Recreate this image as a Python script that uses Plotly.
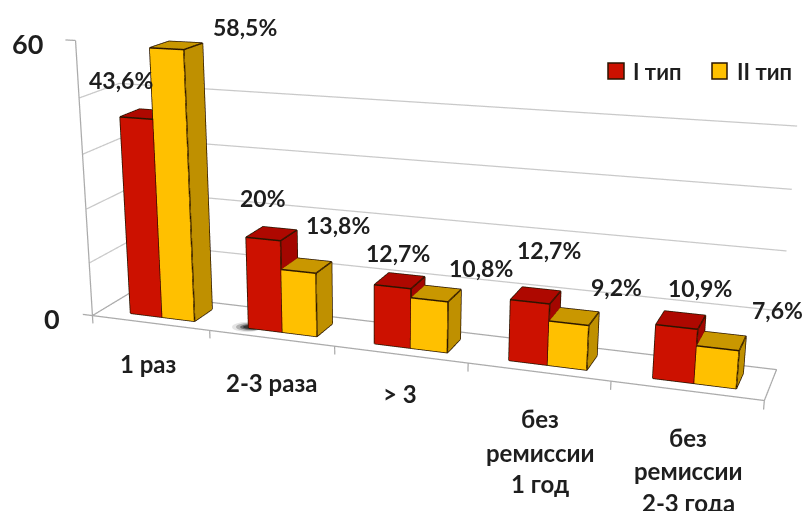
import plotly.graph_objects as go

W, H = 803, 511

categories = ["1 раз", "2-3 раза", "> 3", "без ремиссии 1 год", "без ремиссии 2-3 года"]
type_1 = [43.6, 20, 12.7, 12.7, 10.9]
type_2 = [58.5, 13.8, 10.8, 9.2, 7.6]
series_names = ["I тип", "II тип"]
grid_values = [12, 24, 36, 48]
axis_min, axis_max = 0, 60

RED = dict(front="#CC1100", side="#A30600", top="#AE0800")
YELLOW = dict(front="#FFC000", side="#BF9000", top="#C99700")
EDGE = "#2A1500"
GRID = "#C9C9C9"
AXIS = "#ABABAB"
INK = "#1E1E1E"
FONT = "Lato, 'Open Sans', sans-serif"

# bar footprint inside a category slot (x) and across the floor (y)
SLOT_STARTS = (0.25, 0.525)
BAR_W = 0.275
DEPTH = (0.25, 0.75)

# skew of the oblique box: how far depth and height lean in the plotted space
DEPTH_ASPECT = 0.06067
HEIGHT_ASPECT = 0.36345
LEAN_X_BY_DEPTH = 0.03145
LEAN_X_BY_HEIGHT = -0.0322
LEAN_Y_BY_HEIGHT = 0.21565
LEAN_Y_BY_X = 0.00083


def place(x, y, z):
    """Category slot, floor depth and value -> scene coordinates (value stays on z)."""
    xn, yn, zn = x / 5 - 0.5, y - 0.5, z / 60 - 0.5
    return (x + 5 * (LEAN_X_BY_DEPTH * yn + LEAN_X_BY_HEIGHT * zn),
            y + (LEAN_Y_BY_HEIGHT * zn + LEAN_Y_BY_X * xn) / DEPTH_ASPECT,
            z)


def polyline(segs, color, width):
    xs, ys, zs = [], [], []
    for s in segs:
        for p in s:
            px, py, pz = place(*p)
            xs.append(px); ys.append(py); zs.append(pz)
        xs.append(None); ys.append(None); zs.append(None)
    return go.Scatter3d(x=xs, y=ys, z=zs, mode="lines",
                        line=dict(color=color, width=width),
                        hoverinfo="skip", showlegend=False)


def box(x0, x1, y0, y1, value, colors, name):
    corners = [(x0, y0, 0), (x1, y0, 0), (x1, y1, 0), (x0, y1, 0),
               (x0, y0, value), (x1, y0, value), (x1, y1, value), (x0, y1, value)]
    xs, ys, zs = zip(*[place(*c) for c in corners])
    faces = [((0, 1, 5), "front"), ((0, 5, 4), "front"),
             ((1, 2, 6), "side"), ((1, 6, 5), "side"),
             ((4, 5, 6), "top"), ((4, 6, 7), "top"),
             ((0, 4, 7), "side"), ((0, 7, 3), "side"),
             ((3, 2, 6), "side"), ((3, 6, 7), "side"),
             ((0, 1, 2), "side"), ((0, 2, 3), "side")]
    return go.Mesh3d(
        x=xs, y=ys, z=zs, name=name,
        i=[f[0][0] for f in faces], j=[f[0][1] for f in faces], k=[f[0][2] for f in faces],
        facecolor=[colors[f[1]] for f in faces], flatshading=True, opacity=1,
        lighting=dict(ambient=1, diffuse=0, specular=0, fresnel=0, roughness=1),
        hoverinfo="skip", showscale=False,
    )


def box_edges(x0, x1, y0, y1, v):
    segs = [
        [(x0, y0, 0), (x1, y0, 0), (x1, y1, 0)],
        [(x0, y0, 0), (x0, y0, v), (x1, y0, v), (x1, y0, 0)],
        [(x0, y0, v), (x0, y1, v), (x1, y1, v), (x1, y0, v)],
        [(x1, y1, v), (x1, y1, 0)],
    ]
    return polyline(segs, EDGE, 3)


n = len(categories)
fig = go.Figure()

# gridlines on the side and back walls
fig.add_trace(polyline([[(n, 1, v), (0, 1, v), (0, 0, v)] for v in grid_values], GRID, 2.5))

# value axis, floor outline and tick marks
frame = [[(0, 0, axis_max), (0, 0, axis_min), (n, 0, axis_min), (n, 1, axis_min),
          (0, 1, axis_min), (0, 0, axis_min)]]
frame += [[(i, 0, 0), (i, 0, -1.8)] for i in range(n + 1)]
frame += [[(0, 0, v), (-0.085, 0, v)] for v in (axis_min, axis_max)]
fig.add_trace(polyline(frame, AXIS, 2.5))

for idx, (vals, cols, name) in enumerate(zip((type_1, type_2), (RED, YELLOW), series_names)):
    for c, v in enumerate(vals):
        x0 = c + SLOT_STARTS[idx]
        fig.add_trace(box(x0, x0 + BAR_W, DEPTH[0], DEPTH[1], v, cols, name))
        fig.add_trace(box_edges(x0, x0 + BAR_W, DEPTH[0], DEPTH[1], v))


def pct(v):
    return f"{v:g}".replace(".", ",") + "%"


def note(text, px, py, size):
    return dict(text=text, x=px / W, y=1 - py / H,
                xref="paper", yref="paper", showarrow=False,
                xanchor="center", yanchor="middle",
                font=dict(family=FONT, size=size, color=INK, weight=700))


label_spots_1 = [(121, 80), (263, 198), (398, 253), (549, 250), (700, 288)]
label_spots_2 = [(245, 27), (338, 225), (481, 268), (616, 287), (777, 310)]
annotations = []
for v, (px, py) in zip(type_1, label_spots_1):
    annotations.append(note(pct(v), px, py, 23))
for v, (px, py) in zip(type_2, label_spots_2):
    annotations.append(note(pct(v), px, py, 23))

annotations.append(note(str(axis_max), 27, 43, 27))
annotations.append(note(str(axis_min), 52, 318, 27))

category_lines = [["1 раз"], ["2-3 раза"], ["> 3"],
                  ["без", "ремиссии", "1 год"], ["без", "ремиссии", "2-3 года"]]
category_spots = [[(148, 363)], [(271, 382)], [(400, 393)],
                  [(540, 418), (540, 452), (540, 483)],
                  [(688, 437), (688, 470), (688, 502)]]
for lines, spots in zip(category_lines, category_spots):
    for t, (px, py) in zip(lines, spots):
        annotations.append(note(t, px, py, 24))


def paper_rect(x0, y0, x1, y1, fill, line=None):
    return dict(type="rect", xref="paper", yref="paper", layer="above",
                x0=x0 / W, x1=x1 / W, y0=1 - y0 / H, y1=1 - y1 / H,
                fillcolor=fill, line=dict(color=line or fill, width=1.5 if line else 0))


# legend keys and captions
shapes = [paper_rect(608, 63, 624, 79, RED["front"], EDGE),
          paper_rect(712, 63, 727, 79, YELLOW["front"], EDGE)]
annotations.append(note(series_names[0], 657, 71, 22))
annotations.append(note(series_names[1], 764, 71, 22))

# soft contact shadow beside the second red bar
for left, half_h, alpha in ((232, 5, 0.10), (236, 4, 0.22), (240, 3, 0.40), (243, 2.2, 0.5)):
    shapes.append(dict(type="circle", xref="paper", yref="paper", layer="below",
                       x0=left / W, x1=262 / W,
                       y0=1 - (327 - half_h) / H, y1=1 - (327 + half_h) / H,
                       fillcolor=f"rgba(0,0,0,{alpha})", line=dict(width=0)))

hidden = dict(visible=False, showgrid=False, zeroline=False, showbackground=False, showspikes=False)
fig.update_layout(
    width=W, height=H,
    margin=dict(l=0, r=0, t=0, b=0),
    paper_bgcolor="white",
    showlegend=False,
    annotations=annotations,
    shapes=shapes,
    scene=dict(
        domain=dict(x=[0, 1], y=[0, 1]),
        xaxis=dict(range=[-1, n + 1], **hidden),
        yaxis=dict(range=[-2.5, 3.5], **hidden),
        zaxis=dict(range=[-10, 70], **hidden),
        aspectmode="manual",
        aspectratio=dict(x=1.4, y=6 * DEPTH_ASPECT, z=HEIGHT_ASPECT * 80 / 60),
        camera=dict(
            eye=dict(x=0.12629, y=-0.74822, z=0.49593),
            center=dict(x=-0.01102, y=-0.05598, z=-0.06134),
            up=dict(x=0.00775, y=0.04689, z=1),
            projection=dict(type="perspective"),
        ),
    ),
)

fig.write_html("out.html")
